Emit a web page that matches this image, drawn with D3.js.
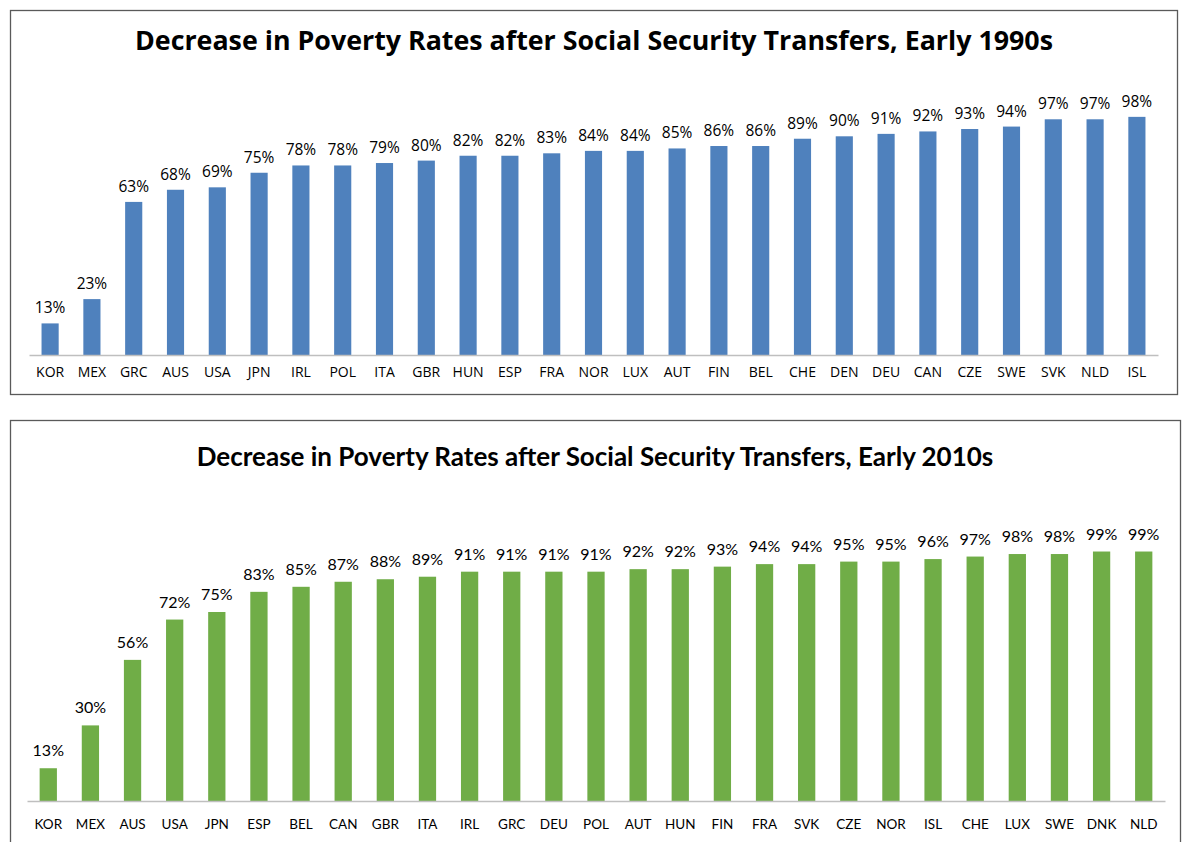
<!DOCTYPE html>
<html><head><meta charset="utf-8">
<script src="https://cdn.jsdelivr.net/npm/d3@7/dist/d3.min.js"></script>
<style>body{margin:0;background:#fff}svg{display:block}</style>
</head><body>
<svg id="c" width="1184" height="842"></svg>
<script>
const title1 = "Decrease in Poverty Rates after Social Security Transfers, Early 1990s";
const cats1 = ["KOR","MEX","GRC","AUS","USA","JPN","IRL","POL","ITA","GBR","HUN","ESP","FRA","NOR","LUX","AUT","FIN","BEL","CHE","DEN","DEU","CAN","CZE","SWE","SVK","NLD","ISL"];
const vals1 = [13,23,63,68,69,75,78,78,79,80,82,82,83,84,84,85,86,86,89,90,91,92,93,94,97,97,98];

const title2 = "Decrease in Poverty Rates after Social Security Transfers, Early 2010s";
const cats2 = ["KOR","MEX","AUS","USA","JPN","ESP","BEL","CAN","GBR","ITA","IRL","GRC","DEU","POL","AUT","HUN","FIN","FRA","SVK","CZE","NOR","ISL","CHE","LUX","SWE","DNK","NLD"];
const vals2 = [13,30,56,72,75,83,85,87,88,89,91,91,91,91,92,92,93,94,94,95,95,96,97,98,98,99,99];

const svg = d3.select("#c");

function panel(cfg){
  const g = svg.append("g");
  g.append("rect").attr("x",cfg.box[0]+0.5).attr("y",cfg.box[1]+0.5)
    .attr("width",cfg.box[2]).attr("height",cfg.box[3])
    .attr("fill","#fff").attr("stroke","#5a5a5a").attr("stroke-width",1.3);
  g.append("text").attr("x",cfg.titleX).attr("y",cfg.titleY)
    .attr("text-anchor","middle").attr("font-family",cfg.titleFont)
    .attr("font-weight","bold").attr("font-size",cfg.titleSize).attr("fill","#000")
    .text(cfg.title);
  const x = d3.scaleBand().domain(cfg.cats).range([cfg.x0,cfg.x1]).paddingInner(0.59).paddingOuter(0.3);
  const y = d3.scaleLinear().domain([0,100]).range([cfg.base,cfg.top]);
  g.selectAll("rect.bar").data(cfg.vals).join("rect").attr("class","bar")
    .attr("x",(d,i)=>x(cfg.cats[i])).attr("width",x.bandwidth())
    .attr("y",d=>y(d)).attr("height",d=>y(0)-y(d)).attr("fill",cfg.color);
  g.selectAll("text.lab").data(cfg.vals).join("text").attr("class","lab")
    .attr("x",(d,i)=>x(cfg.cats[i])+x.bandwidth()/2).attr("y",d=>y(d)-cfg.labGap)
    .attr("text-anchor","middle").attr("font-family",cfg.font).attr("font-size",cfg.labSize)
    .attr("fill","#000").text(d=>d+"%");
  const ax = d3.axisBottom(x).tickSize(0).tickPadding(cfg.tickPad);
  const axg = g.append("g").attr("transform",`translate(0,${cfg.base})`).call(ax);
  axg.select(".domain").attr("stroke","#bfbfbf").attr("stroke-width",1.5);
  axg.selectAll("text").attr("font-family",cfg.font).attr("font-size",cfg.catSize).attr("fill","#000");
}

panel({box:[10,10,1167,384], title:title1, titleX:594, titleY:50, titleFont:"'Open Sans', sans-serif", titleSize:26.8,
  cats:cats1, vals:vals1, x0:29, x1:1158, base:355, top:112, color:"#4f81bd",
  font:"'Open Sans', sans-serif", labSize:15.5, catSize:14, labGap:10, tickPad:12});

panel({box:[10,420,1170,430], title:title2, titleX:595, titleY:466, titleFont:"Lato, 'Open Sans', sans-serif", titleSize:26,
  cats:cats2, vals:vals2, x0:27, x1:1165, base:801, top:549, color:"#70ad47",
  font:"Lato, sans-serif", labSize:16, catSize:13.5, labGap:12, tickPad:18});
</script>
</body></html>
